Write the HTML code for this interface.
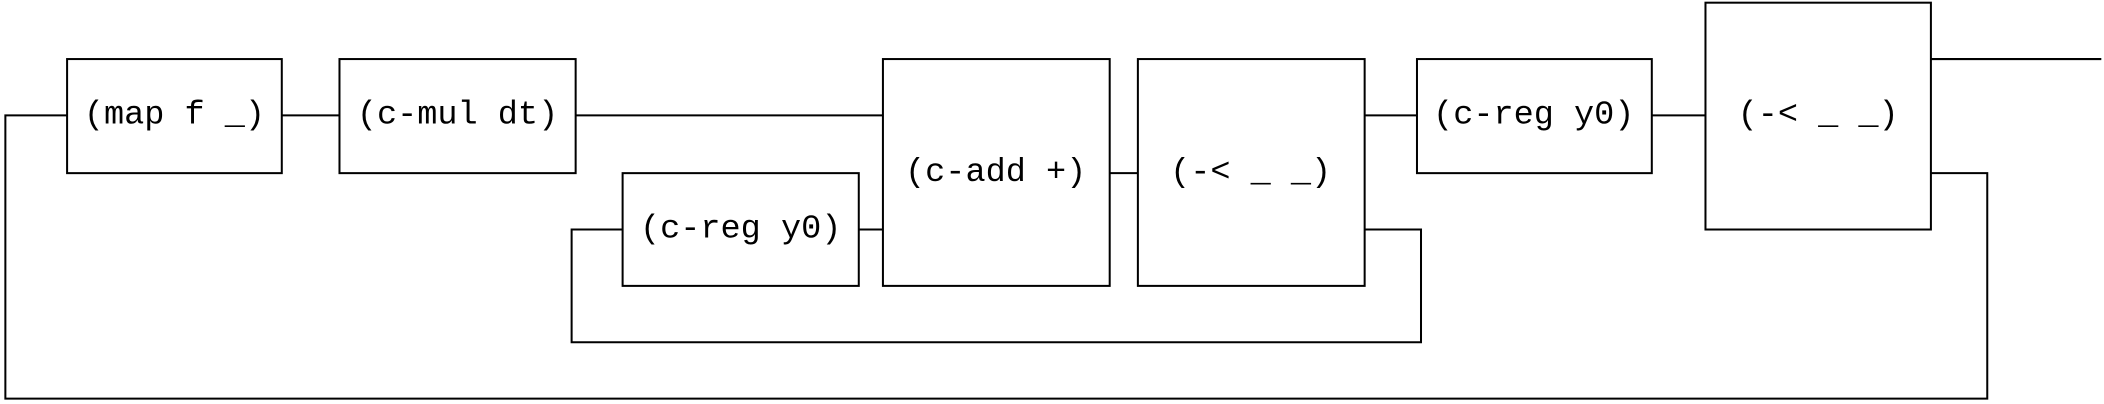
<!DOCTYPE html>
<html><head><meta charset="utf-8"><style>
html,body{margin:0;padding:0;background:#fff;}
svg{display:block;}
text{font-family:"Liberation Mono",monospace;font-size:25px;text-anchor:middle;dominant-baseline:central;fill:#000;}
</style></head><body>
<svg width="2104" height="404" viewBox="0 0 1568 301" preserveAspectRatio="none">
<g fill="none" stroke="#000" stroke-width="1.5">
<path d="M50 86 H4 V297 H1481 V129 H1439"/>
<path d="M210 86 H253"/>
<path d="M429 86 H658"/>
<path d="M640 171 H658"/>
<path d="M827 129 H848"/>
<path d="M1017 86 H1056"/>
<path d="M1017 171 H1059 V255 H426 V171 H464"/>
<path d="M1231 86 H1271"/>
<path d="M1439 44 H1566"/>
<rect x="50" y="44" width="160" height="85"/>
<rect x="253" y="44" width="176" height="85"/>
<rect x="464" y="129" width="176" height="84"/>
<rect x="658" y="44" width="169" height="169"/>
<rect x="848" y="44" width="169" height="169"/>
<rect x="1056" y="44" width="175" height="85"/>
<rect x="1271" y="2" width="168" height="169"/>
</g>
<text x="130" y="86">(map f _)</text>
<text x="341" y="86">(c-mul dt)</text>
<text x="552" y="171">(c-reg y0)</text>
<text x="742" y="129">(c-add +)</text>
<text x="932" y="129">(-&lt; _ _)</text>
<text x="1143" y="86">(c-reg y0)</text>
<text x="1355" y="86">(-&lt; _ _)</text>
</svg>
</body></html>
